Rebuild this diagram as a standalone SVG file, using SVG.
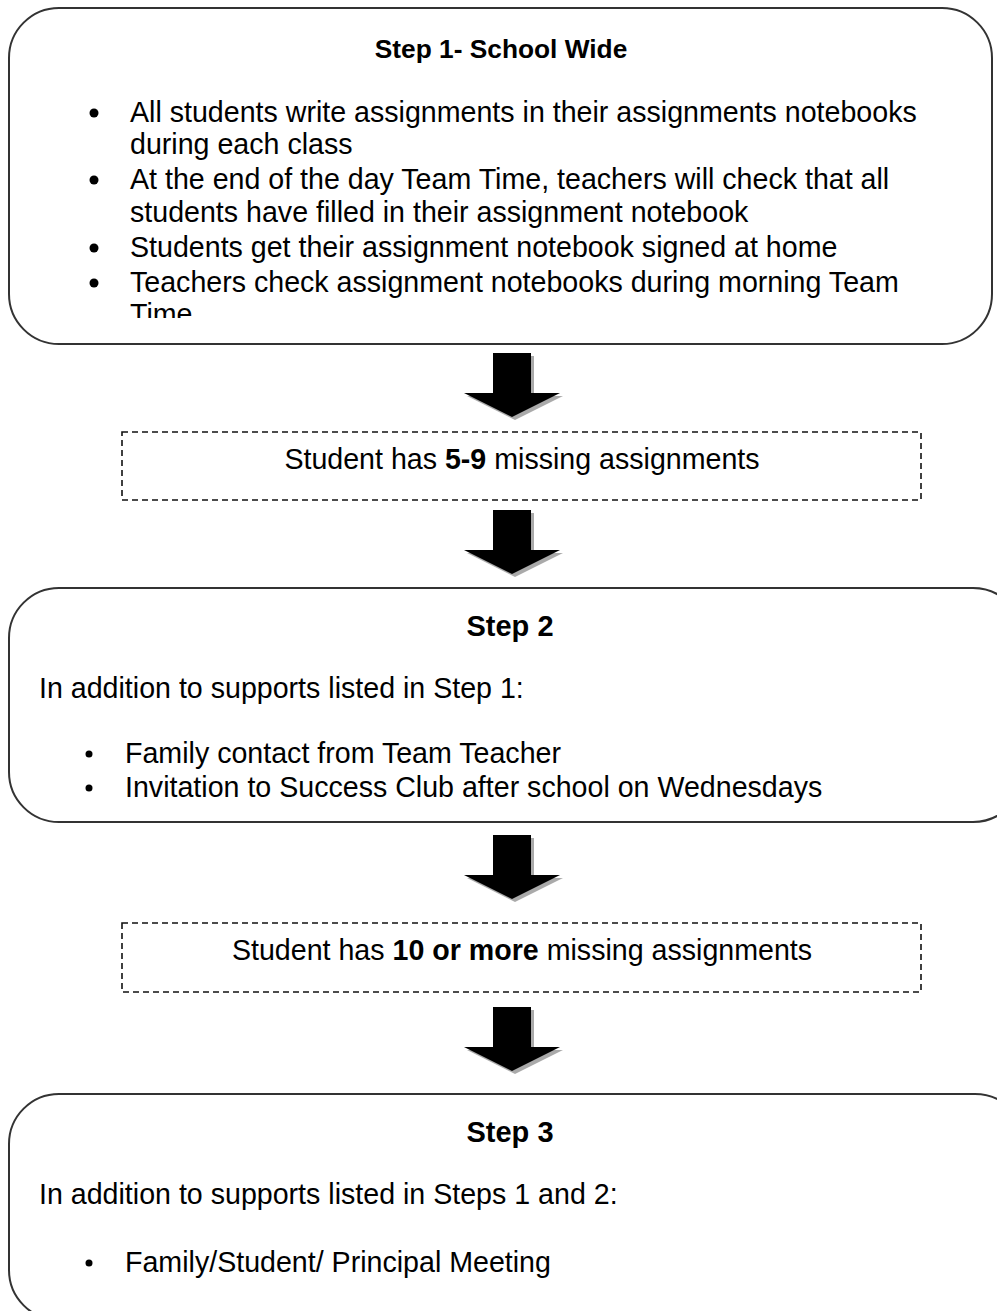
<svg xmlns="http://www.w3.org/2000/svg" width="997" height="1311" viewBox="0 0 997 1311">
<defs>
<style>
.box{fill:#fff;stroke:#333;stroke-width:2}
.dash{fill:#fff;stroke:#111;stroke-width:1.6;stroke-dasharray:6 4}
.t{font-family:"Liberation Sans",Arial,sans-serif;font-size:28.6px;fill:#000}
.title{font-family:"Liberation Sans",Arial,sans-serif;font-size:29px;font-weight:bold;fill:#000}
.b{font-weight:bold}
.arrow{fill:#000}
.shadow{fill:#aaa}
</style>
<path id="arr" d="M-19,0 H19 V40 H48 L0,64 L-48,40 H-19 Z"/>
<clipPath id="clip1"><rect x="0" y="0" width="997" height="318"/></clipPath>
</defs>
<g id="connectors">
<g transform="translate(512,353)"><use href="#arr" class="shadow" x="3" y="3"/><use href="#arr" class="arrow"/></g>
<g transform="translate(512,510)"><use href="#arr" class="shadow" x="3" y="3"/><use href="#arr" class="arrow"/></g>
<g transform="translate(512,835)"><use href="#arr" class="shadow" x="3" y="3"/><use href="#arr" class="arrow"/></g>
<g transform="translate(512,1007)"><use href="#arr" class="shadow" x="3" y="3"/><use href="#arr" class="arrow"/></g>
</g>
<g id="step1">
<rect class="box" x="9" y="8" width="983" height="336" rx="50" ry="50"/>
<text class="title" x="501" y="58" text-anchor="middle" style="font-size:26.3px">Step 1- School Wide</text>
<g fill="#000"><circle cx="94" cy="113" r="4.5"/><circle cx="94" cy="180" r="4.5"/><circle cx="94" cy="248" r="4.5"/><circle cx="94" cy="283" r="4.5"/></g>
<g clip-path="url(#clip1)">
<text class="t" x="130" y="122">All students write assignments in their assignments notebooks</text>
<text class="t" x="130" y="154">during each class</text>
<text class="t" x="130" y="189">At the end of the day Team Time, teachers will check that all</text>
<text class="t" x="130" y="222">students have filled in their assignment notebook</text>
<text class="t" x="130" y="257">Students get their assignment notebook signed at home</text>
<text class="t" x="130" y="292">Teachers check assignment notebooks during morning Team</text>
<text class="t" x="130" y="324">Time</text>
</g>
</g>
<g id="cond1">
<rect class="dash" x="122" y="432" width="799" height="68"/>
<text class="t" x="522" y="469" text-anchor="middle">Student has <tspan class="b">5-9</tspan> missing assignments</text>
</g>
<g id="step2">
<rect class="box" x="9" y="588" width="1014" height="234" rx="50" ry="50"/>
<text class="title" x="510" y="636" text-anchor="middle">Step 2</text>
<text class="t" x="39" y="698">In addition to supports listed in Step 1:</text>
<g fill="#000"><circle cx="89" cy="754" r="3.5"/><circle cx="89" cy="788" r="3.5"/></g>
<text class="t" x="125" y="763">Family contact from Team Teacher</text>
<text class="t" x="125" y="797">Invitation to Success Club after school on Wednesdays</text>
</g>
<g id="cond2">
<rect class="dash" x="122" y="923" width="799" height="69"/>
<text class="t" x="522" y="960" text-anchor="middle">Student has <tspan class="b">10 or more</tspan> missing assignments</text>
</g>
<g id="step3">
<rect class="box" x="9" y="1094" width="1016" height="226" rx="50" ry="50"/>
<text class="title" x="510" y="1142" text-anchor="middle">Step 3</text>
<text class="t" x="39" y="1204">In addition to supports listed in Steps 1 and 2:</text>
<circle cx="89" cy="1263" r="3.5" fill="#000"/>
<text class="t" x="125" y="1272">Family/Student/ Principal Meeting</text>
</g>
</svg>
